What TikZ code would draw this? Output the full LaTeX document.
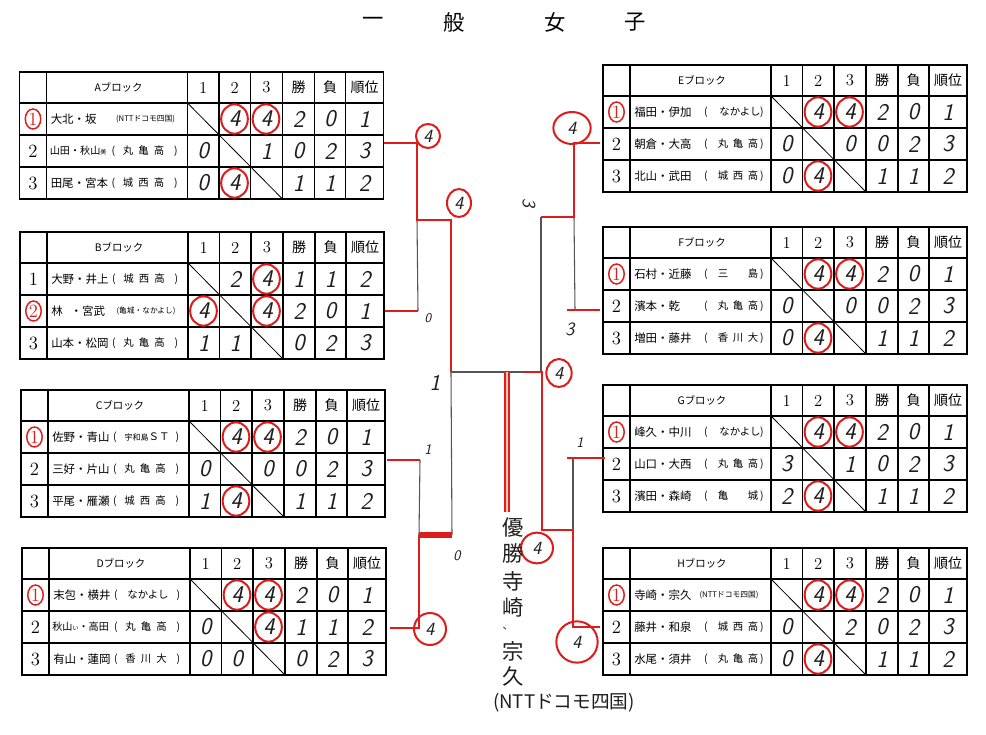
\documentclass[tikz,border=0pt]{standalone}
\usepackage{fontspec}
\newfontfamily\jp{Noto Sans CJK JP}
\usetikzlibrary{calc}
\definecolor{pen}{RGB}{222,28,28}
\definecolor{ink}{RGB}{30,30,30}
\definecolor{gline}{RGB}{85,85,85}
\definecolor{pale}{RGB}{250,196,176}
\tikzset{
  tbl/.style={draw=black, line width=0.85pt},
  hdr/.style={font=\fontsize{12.5}{13}\selectfont, inner sep=0},
  hdrj/.style={font=\jp\fontsize{10.5}{11}\selectfont, inner sep=0},
  ttl/.style={font=\jp\fontsize{7.8}{8}\selectfont, inner sep=0},
  nm/.style={anchor=west, font=\jp\fontsize{8.6}{9}\selectfont, inner sep=0},
  nms/.style={anchor=west, font=\jp\fontsize{7.6}{8}\selectfont, inner sep=0},
  af/.style={font=\jp\fontsize{7.8}{8}\selectfont, inner sep=0},
  afc/.style={font=\jp\fontsize{5.8}{6}\selectfont, inner sep=0},
  num/.style={font=\fontsize{14}{14}\selectfont, inner sep=0},
  hw/.style={font=\sffamily\itshape\fontsize{18}{18}\selectfont, text=ink, inner sep=0},
  hws/.style={font=\sffamily\itshape\fontsize{14}{14}\selectfont, text=ink, inner sep=0},
  ring/.style={draw=pen, line width=1.5pt},
  redl/.style={draw=pen, line width=2.2pt},
  blkl/.style={draw=gline, line width=0.8pt},
  wn/.style={font=\jp\fontsize{16}{16}\selectfont, text=ink, inner sep=0},
  tit/.style={font=\jp\fontsize{16}{16}\selectfont, inner sep=0},
}
% table grid
\newcommand{\tgrid}[2]{%
  \draw[tbl] (0,0) rectangle (364,127);
  \foreach \yy in {31,63,95} {\draw[tbl] (0,\yy) -- (364,\yy);}
  \foreach \xx in {27,168,199.5,231,263,295,326} {\draw[tbl] (\xx,0) -- (\xx,127);}
  \draw[line width=0.6pt] (168,31) -- (263,127);
  \node[ttl] (#1-t) at (99,15.5) {#2};
  \node[hdr] (#1-h1) at (183.75,15.5) {1};
  \node[hdr] (#1-h2) at (215.25,15.5) {2};
  \node[hdr] (#1-h3) at (247,15.5) {3};
  \node[hdrj] (#1-hw) at (279,15.5) {勝};
  \node[hdrj] (#1-hl) at (310.5,15.5) {負};
  \node[hdrj] (#1-hk) at (345,15.5) {順位};
}
\newcommand{\who}[4]{%
  \node[num] (#1-n#2) at (13.5,{15+32*#2}) {#3};
  \node[nm] (#1-m#2) at (31,{15+32*#2}) {#4};}
\newcommand{\whos}[4]{%
  \node[num] (#1-n#2) at (13.5,{15+32*#2}) {#3};
  \node[nms] (#1-m#2) at (30,{15+32*#2}) {#4};}
\newcommand{\circnum}[1]{%
  \draw[pen, line width=1.1pt] (13.5,{15+32*#1}) ellipse (5.8pt and 7.5pt);}
\newcommand{\aff}[5]{%
  \node[af] (#1-p#2) at (\pl,{15+32*#2}) {(};
  \node[af] (#1-a#2) at (\ca,{15+32*#2}) {#3};
  \node[af] (#1-b#2) at (\cb,{15+32*#2}) {#4};
  \node[af] (#1-c#2) at (\cc,{15+32*#2}) {#5};
  \node[af] (#1-q#2) at (\pr,{15+32*#2}) {)};}
\newcommand{\affw}[3]{%
  \node[af] (#1-p#2) at (\pl,{15+32*#2}) {(};
  \node[af] (#1-a#2) at ({\cb+2},{15+32*#2}) {#3};
  \node[af] (#1-q#2) at (\pr,{15+32*#2}) {)};}
\newcommand{\affc}[3]{%
  \node[afc] (#1-a#2) at (126,{15+32*#2}) {#3};}
\newcommand{\res}[8]{%
  \node[hw] (#1-r#2a) at (183.75,{15+32*#2}) {#3};
  \node[hw] (#1-r#2b) at (215.25,{15+32*#2}) {#4};
  \node[hw] (#1-r#2c) at (247,{15+32*#2}) {#5};
  \node[hw] (#1-r#2w) at (279,{15+32*#2}) {#6};
  \node[hw] (#1-r#2l) at (310.5,{15+32*#2}) {#7};
  \node[hw] (#1-r#2k) at (345,{15+32*#2}) {#8};}
\newcommand{\rg}[2]{%
  \draw[ring] ({152+31.5*#1},{15+32*#2}) ellipse (10pt and 11pt);}
\newcommand{\leftaff}{\def\pl{94}\def\ca{108.5}\def\cb{124}\def\cc{139.5}\def\pr{156.5}}
\newcommand{\rightaff}{\def\pl{103}\def\ca{120}\def\cb{135}\def\cc{150}\def\pr{159}}
\begin{document}
\begin{tikzpicture}[x=0.75pt,y=-0.75pt]
\useasboundingbox (0,0) rectangle (986,735);
\fill[white] (0,0) rectangle (986,735);
% title
\node[tit] (t1) at (373,22) {一};
\node[tit] (t2) at (454,22) {般};
\node[tit] (t3) at (555,22) {女};
\node[tit] (t4) at (635,22) {子};

% ---------- A ----------
\begin{scope}[shift={(19.5,72)}]
\leftaff
\tgrid{A}{Aブロック}
\who{A}{1}{\textcolor{pen}{1}}{大北・坂}\circnum{1}
\affc{A}{1}{(NTTドコモ四国)}
\whos{A}{2}{2}{山田・秋山{\fontsize{4.5}{5}\selectfont 美}}
\aff{A}{2}{丸}{亀}{高}
\who{A}{3}{3}{田尾・宮本}
\aff{A}{3}{城}{西}{高}
\res{A}{1}{}{4}{4}{2}{0}{1}
\res{A}{2}{0}{}{1}{0}{2}{3}
\res{A}{3}{0}{4}{}{1}{1}{2}
\rg{2}{1}\rg{3}{1}\rg{2}{3}
\end{scope}

% ---------- B ----------
\begin{scope}[shift={(20,232)}]
\leftaff
\tgrid{B}{Bブロック}
\who{B}{1}{1}{大野・井上}
\aff{B}{1}{城}{西}{高}
\who{B}{2}{\textcolor{pen}{2}}{林\hspace{0.7em}・宮武}\circnum{2}
\affc{B}{2}{(亀城・なかよし)}
\who{B}{3}{3}{山本・松岡}
\aff{B}{3}{丸}{亀}{高}
\res{B}{1}{}{2}{4}{1}{1}{2}
\res{B}{2}{4}{}{4}{2}{0}{1}
\res{B}{3}{1}{1}{}{0}{2}{3}
\rg{3}{1}\rg{1}{2}\rg{3}{2}
\end{scope}

% ---------- C ----------
\begin{scope}[shift={(21,390)}]
\leftaff
\tgrid{C}{Cブロック}
\who{C}{1}{\textcolor{pen}{1}}{佐野・青山}\circnum{1}
\affw{C}{1}{{\fontsize{6}{6}\selectfont 宇和島}ＳＴ}
\who{C}{2}{2}{三好・片山}
\aff{C}{2}{丸}{亀}{高}
\who{C}{3}{3}{平尾・雁瀬}
\aff{C}{3}{城}{西}{高}
\res{C}{1}{}{4}{4}{2}{0}{1}
\res{C}{2}{0}{}{0}{0}{2}{3}
\res{C}{3}{1}{4}{}{1}{1}{2}
\rg{2}{1}\rg{3}{1}\rg{2}{3}
\end{scope}

% ---------- D ----------
\begin{scope}[shift={(22,548)}]
\leftaff
\tgrid{D}{Dブロック}
\who{D}{1}{\textcolor{pen}{1}}{末包・横井}\circnum{1}
\affw{D}{1}{なかよし}
\whos{D}{2}{2}{秋山{\fontsize{4.5}{5}\selectfont い}・高田}
\aff{D}{2}{丸}{亀}{高}
\who{D}{3}{3}{有山・蓮岡}
\aff{D}{3}{香}{川}{大}
\res{D}{1}{}{4}{4}{2}{0}{1}
\res{D}{2}{0}{}{4}{1}{1}{2}
\res{D}{3}{0}{0}{}{0}{2}{3}
\rg{2}{1}\rg{3}{1}\rg{3}{2}
\end{scope}

% ---------- E ----------
\begin{scope}[shift={(603,65)}]
\rightaff
\tgrid{E}{Eブロック}
\who{E}{1}{\textcolor{pen}{1}}{福田・伊加}\circnum{1}
\affw{E}{1}{なかよし}
\who{E}{2}{2}{朝倉・大高}
\aff{E}{2}{丸}{亀}{高}
\who{E}{3}{3}{北山・武田}
\aff{E}{3}{城}{西}{高}
\res{E}{1}{}{4}{4}{2}{0}{1}
\res{E}{2}{0}{}{0}{0}{2}{3}
\res{E}{3}{0}{4}{}{1}{1}{2}
\rg{2}{1}\rg{3}{1}\rg{2}{3}
\end{scope}

% ---------- F ----------
\begin{scope}[shift={(603,227)}]
\rightaff
\tgrid{F}{Fブロック}
\who{F}{1}{\textcolor{pen}{1}}{石村・近藤}\circnum{1}
\aff{F}{1}{三}{}{島}
\who{F}{2}{2}{濱本・乾}
\aff{F}{2}{丸}{亀}{高}
\who{F}{3}{3}{増田・藤井}
\aff{F}{3}{香}{川}{大}
\res{F}{1}{}{4}{4}{2}{0}{1}
\res{F}{2}{0}{}{0}{0}{2}{3}
\res{F}{3}{0}{4}{}{1}{1}{2}
\rg{2}{1}\rg{3}{1}\rg{2}{3}
\end{scope}

% ---------- G ----------
\begin{scope}[shift={(603,385)}]
\rightaff
\tgrid{G}{Gブロック}
\who{G}{1}{\textcolor{pen}{1}}{峰久・中川}\circnum{1}
\affw{G}{1}{なかよし}
\who{G}{2}{2}{山口・大西}
\aff{G}{2}{丸}{亀}{高}
\who{G}{3}{3}{濱田・森崎}
\aff{G}{3}{亀}{}{城}
\res{G}{1}{}{4}{4}{2}{0}{1}
\res{G}{2}{3}{}{1}{0}{2}{3}
\res{G}{3}{2}{4}{}{1}{1}{2}
\rg{2}{1}\rg{3}{1}\rg{2}{3}
\end{scope}

% ---------- H ----------
\begin{scope}[shift={(603,548)}]
\rightaff
\tgrid{H}{Hブロック}
\who{H}{1}{\textcolor{pen}{1}}{寺崎・宗久}\circnum{1}
\affc{H}{1}{(NTTドコモ四国)}
\who{H}{2}{2}{藤井・和泉}
\aff{H}{2}{城}{西}{高}
\who{H}{3}{3}{水尾・須井}
\aff{H}{3}{丸}{亀}{高}
\res{H}{1}{}{4}{4}{2}{0}{1}
\res{H}{2}{0}{}{2}{0}{2}{3}
\res{H}{3}{0}{4}{}{1}{1}{2}
\rg{2}{1}\rg{3}{1}\rg{2}{3}
\end{scope}

% ---------- bracket ----------
\coordinate (la) at (384,143);
\coordinate (la1) at (417,143);
\coordinate (lab) at (417,220);
\coordinate (lab2) at (451,220);
\coordinate (lt) at (451,372);
\coordinate (lb) at (385,311);
\coordinate (lb1) at (418,311);
\coordinate (lc) at (387,460);
\coordinate (lc1) at (420,460);
\coordinate (lcd) at (419,535);
\coordinate (lcd2) at (452,535);
\coordinate (ld) at (390,628);
\coordinate (ld1) at (419,628);
\coordinate (rt) at (542,372);
\coordinate (rred) at (523,372);
\coordinate (fin) at (507,372);
\coordinate (fin2) at (507,512);
\coordinate (re) at (600,143);
\coordinate (re1) at (574,143);
\coordinate (ref) at (574,217);
\coordinate (ref2) at (541,217);
\coordinate (rf0) at (567,310);
\coordinate (rf1) at (575,310);
\coordinate (rf) at (600,310);
\coordinate (rg0) at (567,458);
\coordinate (rg1) at (573,458);
\coordinate (rg) at (605,458);
\coordinate (rgh) at (573,530);
\coordinate (rgh2) at (542,530);
\coordinate (rh1) at (573,627);
\coordinate (rh) at (600,627);

\draw[blkl] (lab) -- (lb1);
\draw[blkl] (lc1) -- (lcd);
\draw[blkl] (lt) -- (lcd2);
\draw[blkl] (lt) -- (rt);
\draw[blkl] (ref2) |- (rt);
\draw[blkl] (ref) -- (rf1);
\draw[blkl] (rg1) -- (rgh);

\draw[redl] (la) -- (la1) -- (lab) -- (lab2) -- (lt);
\draw[redl] (lb) -- (lb1);
\draw[redl] (lc) -- (lc1);
\draw[redl] (ld) -- (ld1) -- (lcd);
\draw[pen, line width=4.5pt] (lcd) -- (lcd2);
\draw[redl] (re) -- (re1) -- (ref) -- (ref2);
\draw[redl] (rf0) -- (rf);
\draw[redl] (rg0) -- (rg);
\draw[redl] (rh) -- (rh1) -- (rgh) -- (rgh2) -- (rt) -- (rred);
\draw[pen, line width=4.2pt] (fin) -- (fin2);
\draw[pale, line width=1.8pt] (fin) -- (fin2);

% bracket scores
\node[hws] (s1) at (428,136) {4}; \draw[ring] (s1) ellipse (9pt and 9pt);
\node[hws] (s2) at (459,203) {4}; \draw[ring] (s2) ellipse (9pt and 10.5pt);
\node[hws, font=\sffamily\itshape\fontsize{10}{10}\selectfont] (s3) at (428,318) {0};
\node[hws] (s4) at (572,128) {4}; \draw[ring] (s4) ellipse (14pt and 12pt);
\node[hws, rotate=-90] (s5) at (529,203) {3};
\node[hws] (s6) at (570,329) {3};
\node[hws, font=\sffamily\itshape\fontsize{17}{17}\selectfont] (s7) at (435,383) {1};
\node[hws, font=\sffamily\itshape\fontsize{11}{11}\selectfont] (s8) at (428,450) {1};
\node[hws, font=\sffamily\itshape\fontsize{11}{11}\selectfont] (s9) at (580,443) {1};
\node[hws, font=\sffamily\itshape\fontsize{11}{11}\selectfont] (s10) at (457,556) {0};
\node[hws] (s11) at (430,629) {4}; \draw[ring] (s11) ellipse (12pt and 12pt);
\node[hws] (s12) at (559,373) {4}; \draw[ring] (s12) ellipse (9.5pt and 10.5pt);
\node[hws] (s13) at (537,548) {4}; \draw[ring] (s13) ellipse (12pt and 11.5pt);
\node[hws] (s14) at (577,642) {4}; \draw[ring] (s14) ellipse (15.5pt and 15.5pt);

% winner
\node[wn] (w1) at (513,527) {優};
\node[wn] (w2) at (513,553) {勝};
\node[wn] (w3) at (513,581) {寺};
\node[wn] (w4) at (513,607) {崎};
\node[wn, font=\jp\fontsize{8}{8}\selectfont] (w5) at (508,629) {、};
\node[wn] (w6) at (513,651) {宗};
\node[wn] (w7) at (513,676) {久};
\node[wn, font=\jp\fontsize{14}{14}\selectfont] (w8) at (564,703) {(NTTドコモ四国)};
\end{tikzpicture}
\end{document}
